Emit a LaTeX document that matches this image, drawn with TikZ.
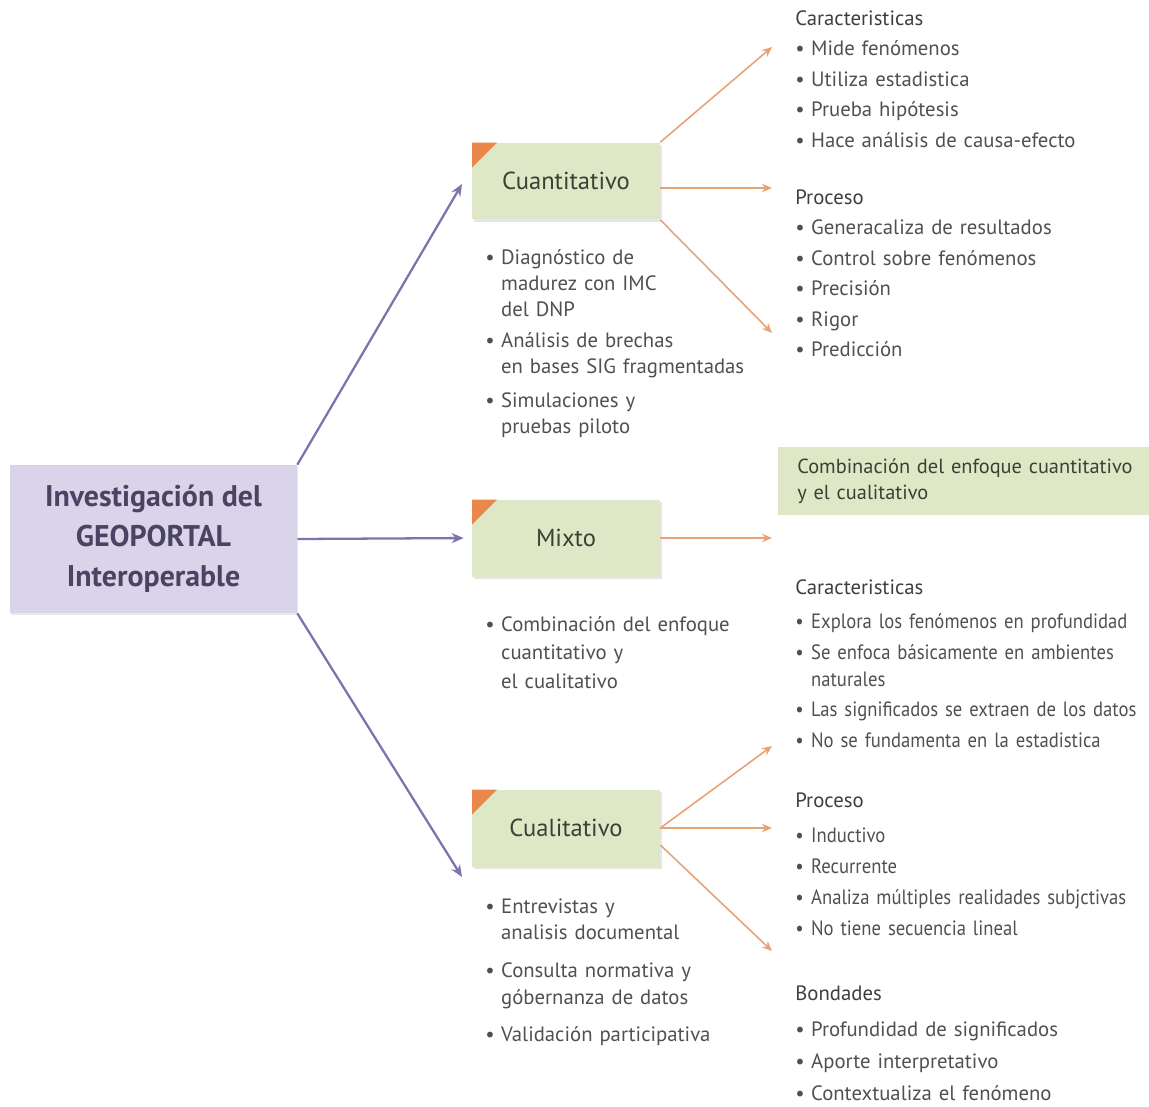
\documentclass[tikz,border=0pt]{standalone}
\usepackage{fontspec}
\setmainfont{PT Sans}
\newfontfamily\narrowfont[FakeStretch=0.9]{PT Sans}
\usetikzlibrary{arrows.meta,positioning,shadows}
\definecolor{lav}{HTML}{D9D4EA}
\definecolor{lavtxt}{HTML}{4A4462}
\definecolor{verde}{HTML}{DEE8C6}
\definecolor{verdetxt}{HTML}{3C3F33}
\definecolor{naranja}{HTML}{E9884A}
\definecolor{naranjaarr}{HTML}{E9A274}
\definecolor{morado}{HTML}{7C74AC}
\definecolor{gris}{HTML}{505050}
\definecolor{grisosc}{HTML}{3E3E3E}
\newcommand{\vi}{\makebox[9pt][l]{\textbullet}}
\newcommand{\sg}{\hspace*{9pt}}
\newcommand{\tit}[1]{{\color{grisosc}#1}}
\tikzset{
  raiz/.style   = {fill=lav, text=lavtxt, align=center, inner sep=0pt,
                   minimum width=5.74cm, minimum height=2.96cm,
                   font=\fontsize{17}{22.8}\selectfont\bfseries,
                   drop shadow={shadow xshift=0.6pt, shadow yshift=-1.2pt,
                                opacity=0.18}},
  tipo/.style   = {fill=verde, text=verdetxt, inner sep=0pt,
                   minimum width=3.76cm, minimum height=1.54cm,
                   font=\fontsize{14}{16}\selectfont,
                   drop shadow={shadow xshift=1pt, shadow yshift=-1.4pt,
                                opacity=0.2},
                   path picture={\fill[naranja]
                     (path picture bounding box.north west)
                     -- ([xshift=0.5cm]path picture bounding box.north west)
                     -- ([yshift=-0.5cm]path picture bounding box.north west)
                     -- cycle;}},
  nota/.style   = {fill=verde, text=verdetxt, anchor=north west, align=left,
                   inner xsep=0.38cm, inner ysep=0pt, text width=7.2cm,
                   minimum height=1.36cm,
                   font=\fontsize{11.6}{14.8}\selectfont},
  lista/.style  = {anchor=base west, text width=8cm, align=left,
                   inner sep=0pt, text=gris},
  parr/.style   = {-{Stealth[length=2.4mm,width=2mm]}, draw=morado,
                   line width=1.3pt},
  oarr/.style   = {-{Stealth[length=2mm,width=1.7mm]}, draw=naranjaarr,
                   line width=0.9pt},
}
\begin{document}
\begin{tikzpicture}[x=0.02cm, y=-0.02cm]
\useasboundingbox (0,0) rectangle (1149,1106);

%% ---- root and the three approaches ---------------------------------
\node[raiz] (raiz) at (153.5,539)
  {Investigación del\\GEOPORTAL\\Interoperable};

\node[tipo] (cuant) at (566,181) {Cuantitativo};
\node[tipo] (mixto) at (566,538) {Mixto};
\node[tipo] (cual)  at (566,828) {Cualitativo};

%% ---- notes under each approach --------------------------------------
\node[lista, font=\fontsize{11.8}{14.8}\selectfont] (lcuant) at (485,264)
  {\vi Diagnóstico de\\
   \sg madurez con IMC\\
   \sg del DNP\\[3.4pt]
   \vi Análisis de brechas\\
   \sg en bases SIG fragmentadas\\[4.5pt]
   \vi Simulaciones y\\
   \sg pruebas piloto};

\node[lista, font=\fontsize{11.8}{16.3}\selectfont] (lmixto) at (485,631)
  {\vi Combinación del enfoque\\
   \sg cuantitativo y\\
   \sg el cualitativo};

\node[lista, font=\fontsize{11.8}{15.2}\selectfont] (lcual) at (485,913)
  {\vi Entrevistas y\\
   \sg analisis documental\\[6.2pt]
   \vi Consulta normativa y\\
   \sg góbernanza de datos\\[6.2pt]
   \vi Validación participativa};

%% ---- right column: cuantitativo -------------------------------------
\node[lista, font=\fontsize{11.8}{17.4}\selectfont] (carcuant) at (795,25)
  {\tit{Caracteristicas}\\
   \vi Mide fenómenos\\
   \vi Utiliza estadistica\\
   \vi Prueba hipótesis\\
   \vi Hace análisis de causa-efecto};

\node[lista, font=\fontsize{11.8}{17.4}\selectfont] (procuant) at (795,204)
  {\tit{Proceso}\\
   \vi Generacaliza de resultados\\
   \vi Control sobre fenómenos\\
   \vi Precisión\\
   \vi Rigor\\
   \vi Predicción};

%% ---- right column: mixto --------------------------------------------
\node[nota] (nmixto) at (778,447)
  {Combinación del enfoque cuantitativo\\y el cualitativo};

%% ---- right column: cualitativo --------------------------------------
\node[lista, font=\fontsize{11.8}{15.4}\selectfont] (carcual) at (795,594)
  {\tit{\rmfamily Caracteristicas}\\[4pt]
   \narrowfont
   \vi Explora los fenómenos en profundidad\\[2.2pt]
   \vi Se enfoca básicamente en ambientes\\
   \sg naturales\\[2.2pt]
   \vi Las significados se extraen de los datos\\[2.2pt]
   \vi No se fundamenta en la estadistica};

\node[lista, font=\fontsize{11.8}{17.6}\selectfont] (procual) at (795,807)
  {\tit{Proceso}\\[2.5pt]
   \narrowfont
   \vi Inductivo\\
   \vi Recurrente\\
   \vi Analiza múltiples realidades subjctivas\\
   \vi No tiene secuencia lineal};

\node[lista, font=\fontsize{11.8}{18.2}\selectfont] (boncual) at (795,1000)
  {\tit{Bondades}\\[2.5pt]
   \vi Profundidad de significados\\
   \vi Aporte interpretativo\\
   \vi Contextualiza el fenómeno};

%% ---- free arrow ends ------------------------------------------------
\coordinate (cuantin) at (462,184);
\coordinate (cualin)  at (462,877);
\coordinate (c1) at (772,47);
\coordinate (c2) at (772,188);
\coordinate (c3) at (772,333);
\coordinate (m1) at (772,538);
\coordinate (q1) at (772,746);
\coordinate (q2) at (772,828);
\coordinate (q3) at (772,951);

%% ---- arrows ---------------------------------------------------------
\draw[parr] (raiz.north east) -- (cuantin);
\draw[parr, shorten >=0.16cm] (raiz.east) -- (mixto.west);
\draw[parr] (raiz.south east) -- (cualin);

\draw[oarr] (cuant.north east) -- (c1);
\draw[oarr] (cuant.east |- c2) -- (c2);
\draw[oarr] (cuant.south east) -- (c3);

\draw[oarr] (mixto.east) -- (m1);

\draw[oarr] (cual.east) -- (q1);
\draw[oarr] (cual.east) -- (q2);
\draw[oarr] ([yshift=-0.34cm]cual.east) -- (q3);
\end{tikzpicture}
\end{document}
